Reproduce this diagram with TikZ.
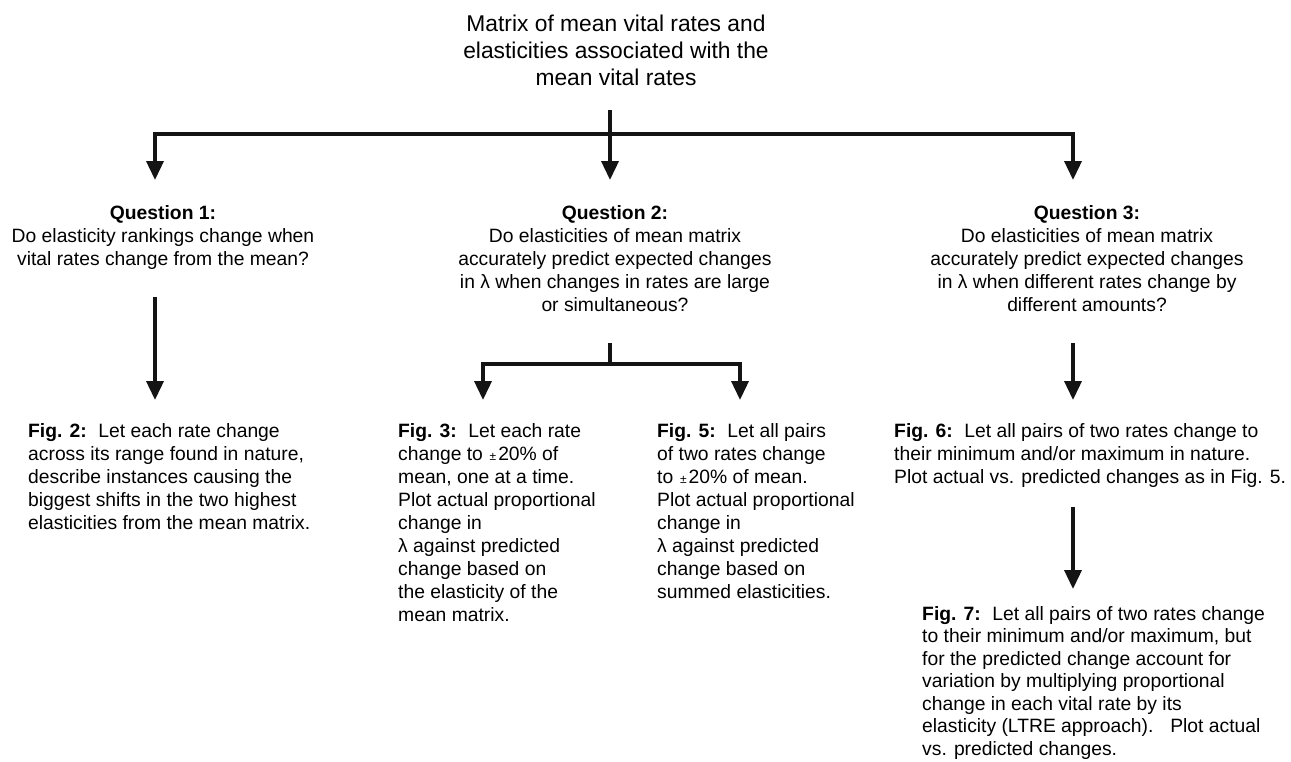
\documentclass[tikz,border=0pt]{standalone}
\usepackage{fontspec}
\setmainfont{Liberation Sans}
\usetikzlibrary{arrows.meta}
\tikzset{
  body/.style={inner sep=0pt, font=\fontsize{19.3}{23}\selectfont},
  qbox/.style={body, align=center, anchor=north},
  figbox/.style={body, align=left, anchor=north west},
  conn/.style={line width=3.6pt, line join=miter, color=black!92},
  arr/.style={conn, -{Triangle[width=17pt,length=19pt]}},
}
\newcommand{\fl}[1]{\textbf{#1}\hspace{0.6em}}
\newcommand{\pmsmall}{\hspace{0.35em}{\fontsize{12}{12}\selectfont ±}\hspace{0.1em}}
\begin{document}
\begin{tikzpicture}[x=1pt,y=-1pt]
\useasboundingbox (0,0) rectangle (1291,761);

% title
\node[qbox, font=\fontsize{22.8}{27}\selectfont] (title) at (616,14.5)
  {Matrix of mean vital rates and\\elasticities associated with the\\mean vital rates};

% questions
\node[qbox] (q1) at (163,205)
  {\textbf{Question 1:}\\Do elasticity rankings change when\\vital rates change from the mean?};
\node[qbox] (q2) at (615,205)
  {\textbf{Question 2:}\\Do elasticities of mean matrix\\accurately predict expected changes\\in λ when changes in rates are large\\or simultaneous?};
\node[qbox] (q3) at (1087,205)
  {\textbf{Question 3:}\\Do elasticities of mean matrix\\accurately predict expected changes\\in λ when different rates change by\\different amounts?};

% figure boxes
\node[figbox] (f2) at (28,423)
  {\fl{Fig. 2:}Let each rate change\\across its range found in nature,\\describe instances causing the\\biggest shifts in the two highest\\elasticities from the mean matrix.};
\node[figbox] (f3) at (398,423)
  {\fl{Fig. 3:}Let each rate\\change to\pmsmall 20\% of\\mean, one at a time.\\Plot actual proportional\\change in\\λ against predicted\\change based on\\the elasticity of the\\mean matrix.};
\node[figbox] (f5) at (657,423)
  {\fl{Fig. 5:}Let all pairs\\of two rates change\\to\pmsmall 20\% of mean.\\Plot actual proportional\\change in\\λ against predicted\\change based on\\summed elasticities.};
\node[figbox] (f6) at (894,423)
  {\fl{Fig. 6:}Let all pairs of two rates change to\\their minimum and/or maximum in nature.\\Plot actual vs. predicted changes as in Fig. 5.};
\node[figbox, font=\fontsize{19.3}{22.5}\selectfont] (f7) at (922,606)
  {\fl{Fig. 7:}Let all pairs of two rates change\\to their minimum and/or maximum, but\\for the predicted change account for\\variation by multiplying proportional\\change in each vital rate by its\\elasticity (LTRE approach).\hspace{0.5em} Plot actual\\vs. predicted changes.};

% connector points
\coordinate (t0) at (610,110);
\coordinate (t1) at (610,134);
\coordinate (a1) at (155,180);
\coordinate (a2) at (610,180);
\coordinate (a3) at (1073,180);

\coordinate (q1s) at (155,297);
\coordinate (q1e) at (155,400);

\coordinate (q2s) at (610,343);
\coordinate (q2j) at (610,364);
\coordinate (b3) at (483,400);
\coordinate (b5) at (740,400);

\coordinate (q3s) at (1073,343);
\coordinate (q3e) at (1073,400);

\coordinate (f6s) at (1073,507);
\coordinate (f6e) at (1073,589);

% connectors
\draw[conn] (t0) -- (t1);
\draw[arr] (t1) -| (a1);
\draw[arr] (t1) -| (a3);
\draw[arr] (t1) -- (a2);

\draw[arr] (q1s) -- (q1e);

\draw[conn] (q2s) -- (q2j);
\draw[arr] (q2j) -| (b3);
\draw[arr] (q2j) -| (b5);

\draw[arr] (q3s) -- (q3e);
\draw[arr] (f6s) -- (f6e);
\end{tikzpicture}
\end{document}
